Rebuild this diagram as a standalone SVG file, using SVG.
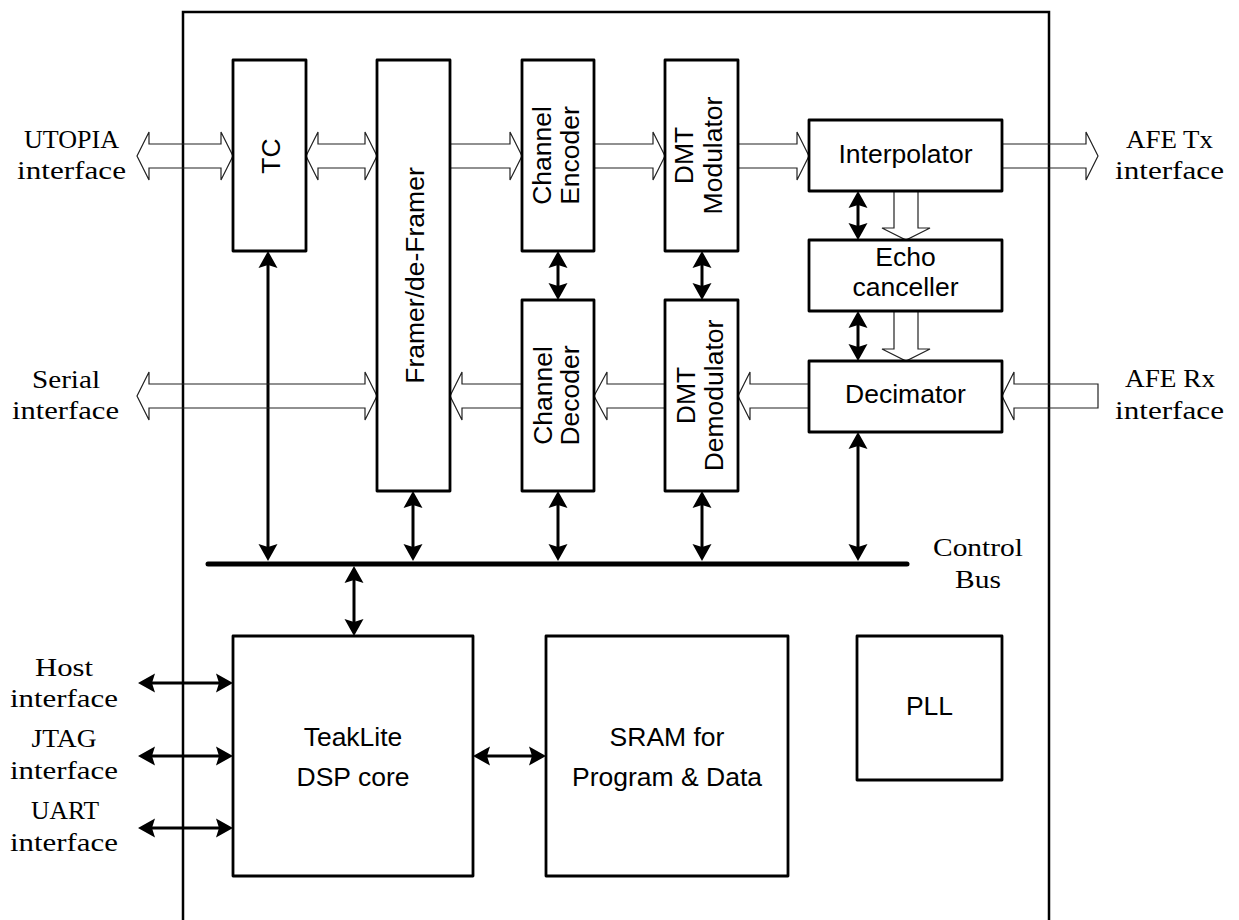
<svg xmlns="http://www.w3.org/2000/svg" width="1239" height="920" viewBox="0 0 1239 920">
<style>
.box{fill:#fff;stroke:#000;stroke-width:2.8;stroke-linejoin:round}
.sans{font-family:"Liberation Sans",Arial,sans-serif;font-size:26.5px;fill:#000;text-anchor:middle}
.serif{font-family:"Liberation Serif","Times New Roman",serif;font-size:26px;fill:#000;text-anchor:middle}
.hol{fill:none;stroke:#222;stroke-width:1.2;stroke-linejoin:miter}
.bl{stroke:#000;stroke-width:3;fill:none;marker-start:url(#ah);marker-end:url(#ah)}
</style>
<defs>
<marker id="ah" markerUnits="userSpaceOnUse" orient="auto-start-reverse" markerWidth="24" markerHeight="24" refX="5" refY="0" overflow="visible">
<path d="M0,-9.5 L17,0 L0,9.5 L3,0 z" fill="#000"/>
</marker>
</defs>
<rect width="1239" height="920" fill="#fff"/>
<path id="frame" d="M183,920 V12 H1049 V920" fill="none" stroke="#000" stroke-width="2.5"/>
<g id="connectors">
<line x1="208" y1="564" x2="907" y2="564" stroke="#000" stroke-width="5" stroke-linecap="round"/>
<line class="bl" x1="268" y1="263" x2="268" y2="549"/>
<line class="bl" x1="413" y1="503" x2="413" y2="549"/>
<line class="bl" x1="558" y1="503" x2="558" y2="549"/>
<line class="bl" x1="702" y1="503" x2="702" y2="549"/>
<line class="bl" x1="858" y1="444" x2="858" y2="549"/>
<line class="bl" x1="558" y1="263" x2="558" y2="288"/>
<line class="bl" x1="702" y1="263" x2="702" y2="288"/>
<line class="bl" x1="858" y1="203" x2="858" y2="228"/>
<line class="bl" x1="858" y1="323" x2="858" y2="349"/>
<line class="bl" x1="354" y1="578" x2="354" y2="624"/>
<line class="bl" x1="150" y1="683" x2="221" y2="683"/>
<line class="bl" x1="150" y1="756" x2="221" y2="756"/>
<line class="bl" x1="150" y1="828" x2="221" y2="828"/>
<line class="bl" x1="485" y1="756" x2="534" y2="756"/>
<polygon class="hol" points="137,156 149,132 149,144 221,144 221,132 233,156 221,180 221,168 149,168 149,180"/>
<polygon class="hol" points="306,156 318,132 318,144 365,144 365,132 377,156 365,180 365,168 318,168 318,180"/>
<polygon class="hol" points="450,144 510,144 510,132 522,156 510,180 510,168 450,168"/>
<polygon class="hol" points="594,144 653,144 653,132 665,156 653,180 653,168 594,168"/>
<polygon class="hol" points="738,144 797,144 797,132 809,156 797,180 797,168 738,168"/>
<polygon class="hol" points="1002,144 1086,144 1086,132 1098,156 1086,180 1086,168 1002,168"/>
<polygon class="hol" points="137,396 149,372 149,384 365,384 365,372 377,396 365,420 365,408 149,408 149,420"/>
<polygon class="hol" points="450,396 462,372 462,384 522,384 522,408 462,408 462,420"/>
<polygon class="hol" points="594,396 607,372 607,384 665,384 665,408 607,408 607,420"/>
<polygon class="hol" points="738,396 750,372 750,384 809,384 809,408 750,408 750,420"/>
<polygon class="hol" points="1002,396 1014,372 1014,384 1098,384 1098,408 1014,408 1014,420"/>
<polygon class="hol" points="894,191 918,191 918,228 930,228 906,240 882,228 894,228"/>
<polygon class="hol" points="894,311 918,311 918,349 930,349 906,361 882,349 894,349"/>
</g>
<g id="tc"><rect class="box" x="233" y="60" width="73" height="191"/><text class="sans" transform="translate(280,156) rotate(-90)">TC</text></g>
<g id="framer"><rect class="box" x="377" y="60" width="73" height="431"/><text class="sans" transform="translate(424,275.5) rotate(-90)">Framer/de-Framer</text></g>
<g id="chenc"><rect class="box" x="522" y="60" width="72" height="191"/><text class="sans" transform="translate(551,155.5) rotate(-90)">Channel</text><text class="sans" transform="translate(579,155.5) rotate(-90)">Encoder</text></g>
<g id="dmtmod"><rect class="box" x="665" y="60" width="73" height="191"/><text class="sans" transform="translate(693,155.5) rotate(-90)">DMT</text><text class="sans" transform="translate(722,155.5) rotate(-90)">Modulator</text></g>
<g id="chdec"><rect class="box" x="522" y="300" width="72" height="191"/><text class="sans" transform="translate(552,395.5) rotate(-90)">Channel</text><text class="sans" transform="translate(579,395.5) rotate(-90)">Decoder</text></g>
<g id="dmtdemod"><rect class="box" x="665" y="300" width="73" height="191"/><text class="sans" transform="translate(695,395.5) rotate(-90)">DMT</text><text class="sans" transform="translate(723,395.5) rotate(-90)">Demodulator</text></g>
<g id="interp"><rect class="box" x="809" y="120" width="193" height="71"/><text class="sans" x="905.5" y="163">Interpolator</text></g>
<g id="echo"><rect class="box" x="809" y="240" width="193" height="71"/><text class="sans" x="905.5" y="266">Echo</text><text class="sans" x="905.5" y="296">canceller</text></g>
<g id="decim"><rect class="box" x="809" y="361" width="193" height="71"/><text class="sans" x="905.5" y="403">Decimator</text></g>
<g id="dsp"><rect class="box" x="233" y="636" width="240" height="240"/><text class="sans" x="353" y="746">TeakLite</text><text class="sans" x="353" y="786">DSP core</text></g>
<g id="sram"><rect class="box" x="546" y="636" width="242" height="240"/><text class="sans" x="667" y="746">SRAM for</text><text class="sans" x="667" y="786">Program &amp; Data</text></g>
<g id="pll"><rect class="box" x="857" y="636" width="145" height="144"/><text class="sans" x="929.5" y="715">PLL</text></g>
<g id="labels">
<text class="serif" x="71.5" y="148" textLength="95" lengthAdjust="spacingAndGlyphs">UTOPIA</text>
<text class="serif" x="71.5" y="179" textLength="109" lengthAdjust="spacingAndGlyphs">interface</text>
<text class="serif" x="66" y="388" textLength="68" lengthAdjust="spacingAndGlyphs">Serial</text>
<text class="serif" x="65.5" y="419" textLength="107" lengthAdjust="spacingAndGlyphs">interface</text>
<text class="serif" x="1169.5" y="148" textLength="87" lengthAdjust="spacingAndGlyphs">AFE Tx</text>
<text class="serif" x="1169.5" y="179" textLength="109" lengthAdjust="spacingAndGlyphs">interface</text>
<text class="serif" x="1170" y="387" textLength="90" lengthAdjust="spacingAndGlyphs">AFE Rx</text>
<text class="serif" x="1169.5" y="419" textLength="109" lengthAdjust="spacingAndGlyphs">interface</text>
<text class="serif" x="64" y="676" textLength="58" lengthAdjust="spacingAndGlyphs">Host</text>
<text class="serif" x="64" y="707" textLength="108" lengthAdjust="spacingAndGlyphs">interface</text>
<text class="serif" x="64" y="747" textLength="65" lengthAdjust="spacingAndGlyphs">JTAG</text>
<text class="serif" x="64" y="779" textLength="108" lengthAdjust="spacingAndGlyphs">interface</text>
<text class="serif" x="65" y="819" textLength="68" lengthAdjust="spacingAndGlyphs">UART</text>
<text class="serif" x="64" y="851" textLength="108" lengthAdjust="spacingAndGlyphs">interface</text>
<text class="serif" x="978" y="556" textLength="90" lengthAdjust="spacingAndGlyphs">Control</text>
<text class="serif" x="978" y="588" textLength="46" lengthAdjust="spacingAndGlyphs">Bus</text>
</g>
</svg>
